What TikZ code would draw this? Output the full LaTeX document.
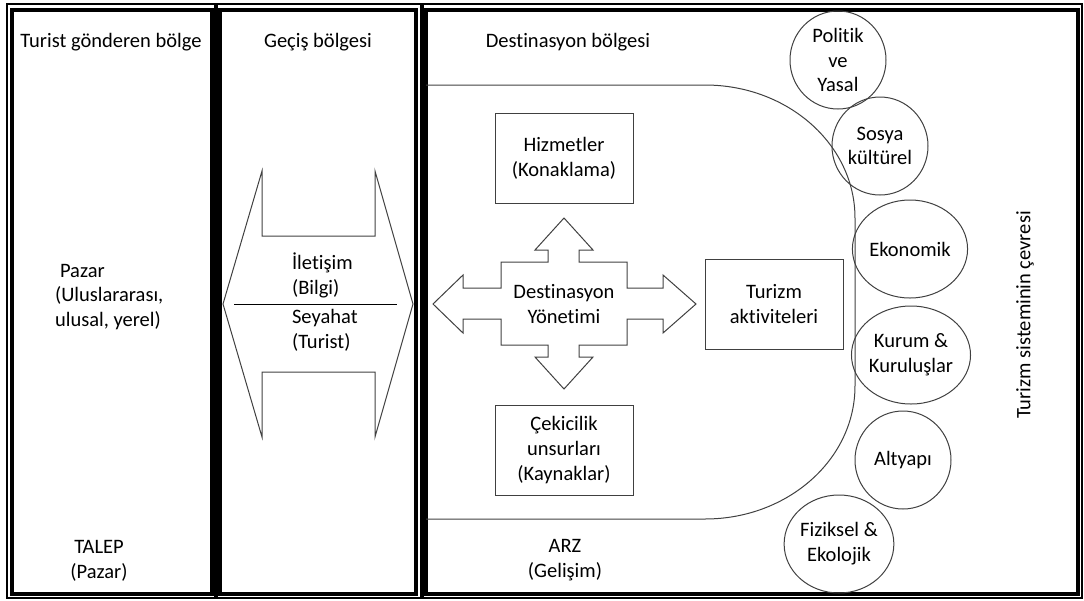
\documentclass[tikz,border=0pt]{standalone}
\usepackage{fontspec}
\setmainfont{Carlito}[Ligatures=NoCommon]
\usetikzlibrary{positioning,shapes.geometric}

\tikzset{
  frame/.style={line width=2pt},
  framethin/.style={line width=0.6pt},
  outline/.style={draw=black!75,line width=0.5pt},
  box/.style={outline,minimum width=69pt,minimum height=45pt,align=center},
  env/.style={ellipse,outline,minimum width=48pt,minimum height=49pt,inner sep=0pt,align=center},
}

\begin{document}
\begin{tikzpicture}[x=0.5pt,y=-0.5pt,font=\fontsize{10.25}{12.4}\selectfont]
	\useasboundingbox (0,0) rectangle (1084,601);
	% the three regions
	\draw[framethin] (7,4) rectangle (215,598);
	\draw[frame] (12,10) rectangle (212,594);
	\draw[framethin] (217,4) rectangle (421,598);
	\draw[frame] (220,10) rectangle (416,594);
	\draw[framethin] (423,4) rectangle (1082,598);
	\draw[frame] (426,10) rectangle (1078,594);

	% generating region
	\node (gonderen) at (111,42) {Turist gönderen bölge};
	\node[align=left,anchor=west] (pazar) at (48,297) {\hspace{2.5pt}Pazar\\(Uluslararası,\\ulusal, yerel)};
	\node[align=center] (talep) at (99,561) {TALEP\\(Pazar)};

	% transit region
	\node (gecis) at (318,42) {Geçiş bölgesi};
	\draw[outline] (223,304) -- (262,171) -- (262,236) -- (375,236) -- (375,171) -- (413,304)
		-- (375,437) -- (375,372) -- (262,372) -- (262,437) -- cycle;
	\coordinate (ayir_l) at (234,304);
	\coordinate (ayir_r) at (397,304);
	\draw[black,line width=0.5pt] (ayir_l) -- (ayir_r);
	\node[align=left,anchor=west] (iletisim) at (285,275) {İletişim\\(Bilgi)};
	\node[align=left,anchor=west] (seyahat) at (285,330) {Seyahat\\(Turist)};

	% destination region
	\node (destbolge) at (568,42) {Destinasyon bölgesi};
	\draw[outline] (426,85) -- (705,85) arc[start angle=-90,end angle=0,x radius=150,y radius=133]
		-- (855,386) arc[start angle=0,end angle=90,x radius=150,y radius=133] -- (426,519);
	\node[box] (hizmet) at (564,158) {Hizmetler\\(Konaklama)};
	\node[box] (aktivite) at (774,304) {Turizm\\aktiviteleri};
	\node[box] (cekici) at (564,450) {Çekicilik\\unsurları\\(Kaynaklar)};
	\draw[outline] (564,218) -- (593,250) -- (579,250) -- (579,262) -- (627,262) -- (627,288)
		-- (663,288) -- (663,275) -- (696,304) -- (663,333) -- (663,319) -- (627,319)
		-- (627,345) -- (579,345) -- (579,357) -- (593,357) -- (564,389) -- (535,357)
		-- (548,357) -- (548,345) -- (501,345) -- (501,319) -- (463,319) -- (463,333)
		-- (433,304) -- (463,275) -- (463,288) -- (501,288) -- (501,262) -- (548,262)
		-- (548,250) -- (535,250) -- cycle;
	\node[align=center] (yonetim) at (564,304) {Destinasyon\\Yönetimi};
	\node[align=center] (arz) at (565,560) {ARZ\\(Gelişim)};

	% environment
	\node[env] (politik) at (838,60) {Politik\\ve\\Yasal};
	\node[env] (sosyal) at (880,146) {Sosya\\kültürel};
	\node[env] (ekonomi) at (910,249) {Ekonomik};
	\node[env] (kurum) at (911,355) {Kurum \&\\Kuruluşlar};
	\node[env] (altyapi) at (903,460) {Altyapı};
	\node[env] (fiziksel) at (839,544) {Fiziksel \&\\Ekolojik};
	\node[rotate=90] (cevre) at (1025,315) {Turizm sisteminin çevresi};
\end{tikzpicture}
\end{document}
